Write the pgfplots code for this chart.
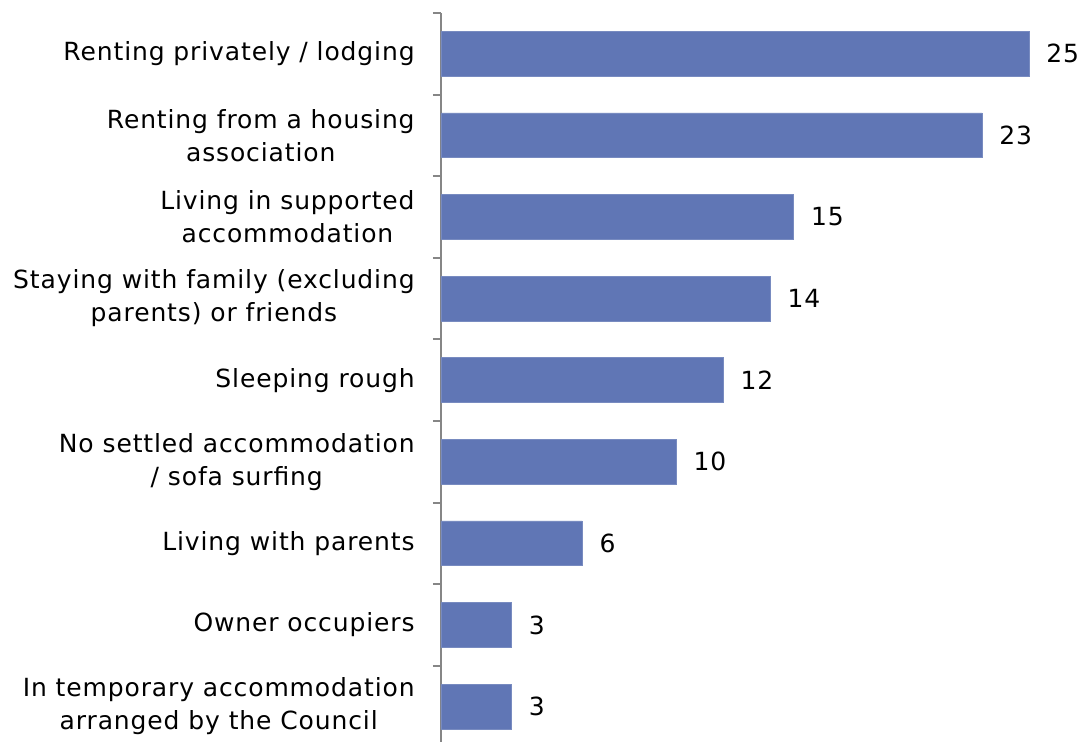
\documentclass[border=0pt]{standalone}
\usepackage{fontspec}
\setmainfont{DejaVu Sans}[LetterSpace=3.5]
\usepackage{pgfplots}
\pgfplotsset{compat=1.18}
\definecolor{barblue}{RGB}{96,118,181}
\definecolor{axisgray}{RGB}{134,134,134}

\begin{document}
\begin{tikzpicture}
\begin{axis}[
    name=ax,
    scale only axis,
    width=320.5pt, height=364.5pt,
    xbar, bar width=0.55,
    xmin=0, xmax=27.25,
    ymin=-0.434, ymax=8.5,
    axis x line=none,
    axis y line*=left,
    y axis line style={axisgray, line width=1pt},
    ytick={0,...,8},
    major tick length=0pt,
    yticklabels={
        {In temporary accommodation\\arranged by the Council},
        {Owner occupiers},
        {Living with parents},
        {No settled accommodation\\/ sofa surfing},
        {Sleeping rough},
        {Staying with family (excluding\\parents) or friends},
        {Living in supported\\accommodation},
        {Renting from a housing\\association},
        {Renting privately / lodging}},
    yticklabel style={align=center, font=\fontsize{12.5}{16.5}\selectfont, inner sep=0pt, xshift=-13pt},
    extra y ticks={0.5,1.5,...,8.5},
    extra y tick labels={},
    extra y tick style={major tick length=4pt, tick align=outside, tick style={axisgray, line width=1pt}},
    /pgf/number format/assume math mode=true,
    nodes near coords,
    nodes near coords style={anchor=west, inner sep=0pt, xshift=8.5pt, font=\fontsize{12.5}{16.5}\selectfont, black},
]
\addplot[fill=barblue, draw=barblue!85!white] coordinates {
    (3,0) (3,1) (6,2) (10,3) (12,4) (14,5) (15,6) (23,7) (25,8)
};
\end{axis}
\pgfresetboundingbox
\path[use as bounding box] ([xshift=-220.5pt]ax.south west) rectangle ([yshift=6.5pt]ax.north east);
\end{tikzpicture}
\end{document}
